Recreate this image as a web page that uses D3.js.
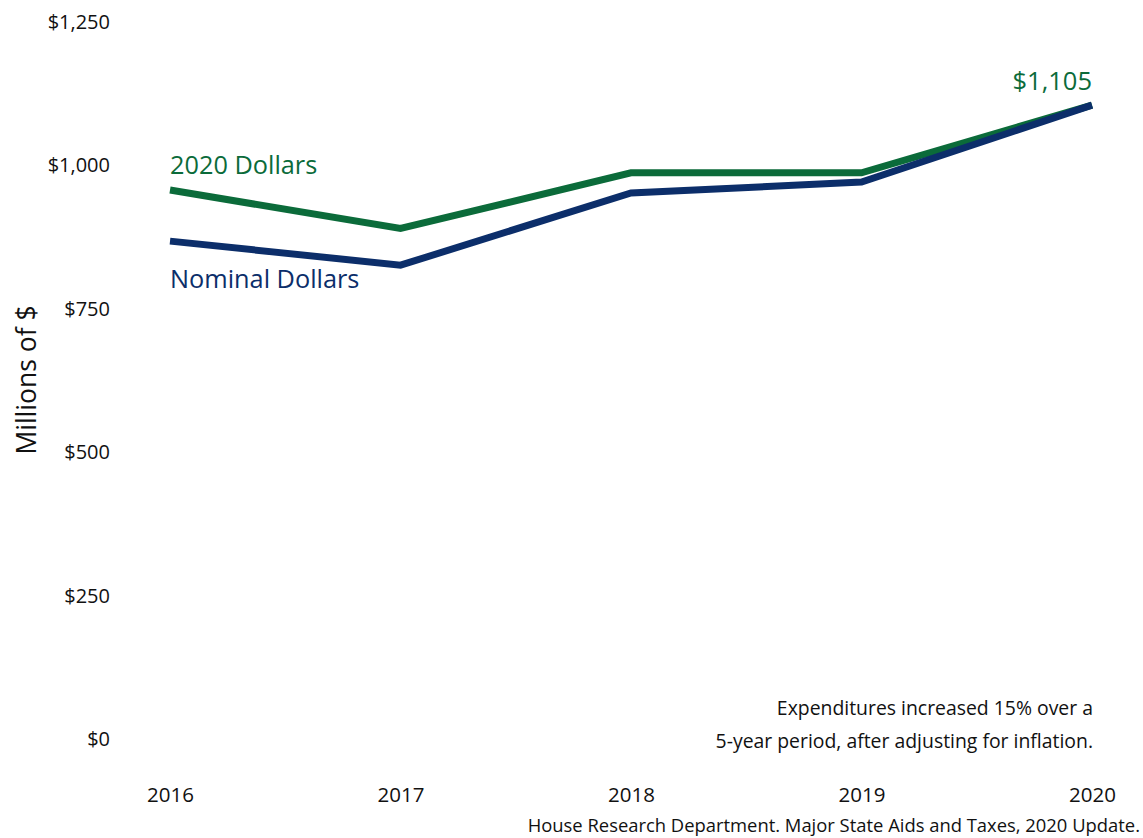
<!DOCTYPE html>
<html>
<head>
<meta charset="utf-8">
<script src="https://cdn.jsdelivr.net/npm/d3@7"></script>
<style>
  html, body { margin: 0; padding: 0; background: #fff; }
  svg { display: block; font-family: "Open Sans", sans-serif; }
</style>
</head>
<body>
<svg id="chart" width="1143" height="838"></svg>
<script>
// Aid expenditures, millions of dollars
const years = [2016, 2017, 2018, 2019, 2020];
const realDollars = [957, 890, 987, 987, 1105];     // 2020 dollars
const nominalDollars = [868, 826, 952, 971, 1105];  // nominal dollars
const yTicks = [0, 250, 500, 750, 1000, 1250];

const green = "#0b6b3a";
const navy = "#0c2e6a";
const ink = "#111";
const font = "'Open Sans', sans-serif";

const svg = d3.select("#chart");

const x = d3.scalePoint().domain(years).range([170, 1092]);
const y = d3.scaleLinear().domain([0, 1250]).range([739, 22]);

const money = d3.format("$,");

// Y axis labels (no axis line or ticks drawn)
const yAxis = svg.append("g")
  .attr("transform", "translate(110,0)")
  .call(d3.axisLeft(y).tickValues(yTicks).tickFormat(money).tickSize(0).tickPadding(0));
yAxis.select(".domain").remove();
yAxis.selectAll("text")
  .attr("fill", ink)
  .style("font-family", font)
  .style("font-size", "20px");

// X axis labels
const xAxis = svg.append("g")
  .attr("transform", "translate(0,787)")
  .call(d3.axisBottom(x).tickFormat(d3.format("d")).tickSize(0).tickPadding(0));
xAxis.select(".domain").remove();
xAxis.selectAll("text")
  .attr("fill", ink)
  .style("font-family", font)
  .style("font-size", "20.5px");

// Y axis title
svg.append("text")
  .attr("transform", "translate(36,380) rotate(-90)")
  .attr("text-anchor", "middle")
  .attr("fill", ink)
  .style("font-size", "26.5px")
  .text("Millions of $");

// Lines
const line = d3.line().x((d, i) => x(years[i])).y(d => y(d));

svg.append("path")
  .datum(realDollars)
  .attr("d", line)
  .attr("fill", "none")
  .attr("stroke", green)
  .attr("stroke-width", 7)
  .attr("stroke-linejoin", "miter");

svg.append("path")
  .datum(nominalDollars)
  .attr("d", line)
  .attr("fill", "none")
  .attr("stroke", navy)
  .attr("stroke-width", 7)
  .attr("stroke-linejoin", "miter");

// Series labels
svg.append("text")
  .attr("x", x(2016)).attr("y", 174)
  .attr("fill", green)
  .style("font-size", "25.3px")
  .text("2020 Dollars");

svg.append("text")
  .attr("x", x(2016)).attr("y", 288)
  .attr("fill", navy)
  .style("font-size", "25.3px")
  .text("Nominal Dollars");

// End value label
svg.append("text")
  .attr("x", x(2020)).attr("y", y(realDollars[4]) - 15)
  .attr("text-anchor", "end")
  .attr("fill", green)
  .style("font-size", "25.5px")
  .text(money(realDollars[4]));

// Annotation
const note = svg.append("text")
  .attr("text-anchor", "end")
  .attr("fill", ink)
  .style("font-size", "19.4px");
note.append("tspan").attr("x", 1093).attr("y", 715).text("Expenditures increased 15% over a");
note.append("tspan").attr("x", 1093).attr("y", 748).text("5-year period, after adjusting for inflation.");

// Source
svg.append("text")
  .attr("x", 1140).attr("y", 832)
  .attr("text-anchor", "end")
  .attr("fill", ink)
  .style("font-size", "18.4px")
  .text("House Research Department. Major State Aids and Taxes, 2020 Update.");
</script>
</body>
</html>
